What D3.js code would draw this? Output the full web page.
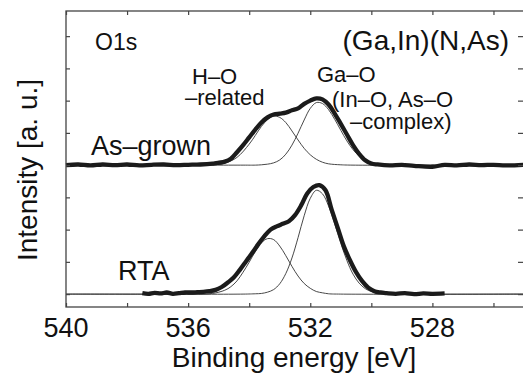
<!DOCTYPE html>
<html>
<head>
<meta charset="utf-8">
<script src="https://cdn.jsdelivr.net/npm/d3@7"></script>
<style>
  body { margin: 0; background: #fff; }
  text { font-family: "Liberation Sans", Arial, sans-serif; fill: #111; }
</style>
</head>
<body>
<div id="chart"></div>
<script>
// O1s XPS spectra, (Ga,In)(N,As): as-grown and after RTA
// each series is [binding energy (eV), intensity above its own baseline (a.u.)]

const spectraNames = ["As–grown", "RTA"];
const baselineOffsets = [4, 0]; // vertical stacking of the two spectra

const asGrownMeasured = [
    [540.0, 0.00], [539.6, 0.02], [539.2, -0.01], [538.8, 0.02], [538.4, 0.00],
    [538.0, 0.02], [537.6, -0.01], [537.2, 0.01], [536.8, 0.02], [536.4, 0.00],
    [536.0, 0.01], [535.6, 0.02], [535.2, 0.05], [534.8, 0.11], [534.6, 0.20],
    [534.4, 0.40], [534.2, 0.62], [534.0, 0.86], [533.8, 1.10], [533.6, 1.32],
    [533.4, 1.48], [533.2, 1.57], [533.0, 1.60], [532.8, 1.63], [532.6, 1.70],
    [532.4, 1.76], [532.2, 1.90], [532.0, 2.00], [531.8, 2.07], [531.6, 2.04],
    [531.4, 1.88], [531.2, 1.60], [531.0, 1.28], [530.8, 0.95], [530.6, 0.62],
    [530.4, 0.35], [530.2, 0.15], [530.0, 0.05], [529.8, 0.02], [529.4, -0.01],
    [529.0, 0.01], [528.6, -0.02], [528.0, -0.05], [527.6, 0.01], [527.2, -0.01],
    [526.8, 0.02], [526.4, 0.00], [526.0, 0.01], [525.6, -0.01], [525.0, 0.01]
];

const asGrownHO = [
    [540.0, 0], [536.0, 0], [535.6, 0.00], [535.2, 0.01], [534.8, 0.06],
    [534.4, 0.24], [534.0, 0.65], [533.8, 0.92], [533.6, 1.20], [533.4, 1.41],
    [533.2, 1.52], [533.0, 1.48], [532.8, 1.32], [532.6, 1.06], [532.4, 0.78],
    [532.2, 0.52], [532.0, 0.32], [531.8, 0.18], [531.6, 0.09], [531.4, 0.04],
    [531.0, 0.01], [530.6, 0], [525.0, 0]
];

const asGrownGaO = [
    [540.0, 0], [534.2, 0], [533.8, 0.00], [533.6, 0.01], [533.4, 0.03],
    [533.2, 0.07], [533.0, 0.16], [532.8, 0.34], [532.6, 0.62], [532.4, 0.99],
    [532.2, 1.40], [532.0, 1.76], [531.8, 1.94], [531.6, 1.91], [531.4, 1.72],
    [531.2, 1.42], [531.0, 1.08], [530.8, 0.75], [530.6, 0.48], [530.4, 0.28],
    [530.2, 0.15], [530.0, 0.07], [529.8, 0.03], [529.6, 0.01], [529.2, 0],
    [525.0, 0]
];

const rtaMeasured = [
    [537.5, 0.03], [537.3, 0.01], [537.1, 0.04], [536.9, 0.02], [536.7, 0.05],
    [536.5, 0.01], [536.3, 0.03], [536.1, 0.05], [535.9, 0.05], [535.7, 0.06],
    [535.5, 0.07], [535.3, 0.09], [535.1, 0.13], [534.9, 0.22], [534.7, 0.36],
    [534.5, 0.52], [534.3, 0.76], [534.1, 1.02], [533.9, 1.28], [533.7, 1.55],
    [533.5, 1.80], [533.3, 2.00], [533.1, 2.10], [532.9, 2.18], [532.7, 2.26],
    [532.5, 2.45], [532.3, 2.75], [532.1, 3.12], [531.9, 3.32], [531.7, 3.38],
    [531.5, 3.22], [531.3, 2.62], [531.1, 2.05], [530.9, 1.48], [530.7, 1.05],
    [530.5, 0.68], [530.3, 0.40], [530.1, 0.20], [529.9, 0.09], [529.7, 0.05],
    [529.5, 0.03], [529.2, 0.01], [528.9, 0.03], [528.6, 0.00], [528.3, 0.02],
    [528.0, 0.01], [527.6, 0.02]
];

const rtaHO = [
    [540.0, 0], [536.0, 0], [535.6, 0.00], [535.2, 0.02], [534.8, 0.12],
    [534.6, 0.23], [534.4, 0.41], [534.2, 0.68], [534.0, 0.99], [533.8, 1.32],
    [533.6, 1.59], [533.4, 1.72], [533.2, 1.69], [533.0, 1.49], [532.8, 1.19],
    [532.6, 0.86], [532.4, 0.56], [532.2, 0.33], [532.0, 0.18], [531.8, 0.08],
    [531.6, 0.04], [531.4, 0.01], [531.0, 0], [525.0, 0]
];

const rtaGaO = [
    [540.0, 0], [534.2, 0], [533.8, 0.01], [533.6, 0.02], [533.4, 0.06],
    [533.2, 0.14], [533.0, 0.32], [532.8, 0.64], [532.6, 1.12], [532.4, 1.75],
    [532.2, 2.43], [532.0, 2.97], [531.8, 3.22], [531.6, 3.11], [531.4, 2.73],
    [531.2, 2.18], [531.0, 1.58], [530.8, 1.04], [530.6, 0.62], [530.4, 0.34],
    [530.2, 0.17], [530.0, 0.08], [529.8, 0.03], [529.6, 0.01], [529.2, 0],
    [525.0, 0]
];

const xTicks = [540, 538, 536, 534, 532, 530, 528, 526];
const xTickLabels = [540, 536, 532, 528];
const yTicks = [0, 1, 2, 3, 4, 5, 6, 7, 8];

// set the dimensions and margins of the graph
const width = 523;
const height = 375;
const margin = { top: 11, right: -1, bottom: 68, left: 66 };

const svg = d3.select("#chart")
    .append("svg")
    .attr("width", width)
    .attr("height", height);

const x = d3.scaleLinear()
    .domain([540, 525])
    .range([margin.left, width - margin.right]);

const y = d3.scaleLinear()
    .domain([-0.4, 8.78])
    .range([height - margin.bottom, margin.top]);

const x0 = x.range()[0], x1 = x.range()[1];
const y0 = y.range()[0], y1 = y.range()[1];

// spectra lines
function spectrumLine(offset) {
    return d3.line()
        .x(d => x(d[0]))
        .y(d => y(d[1] + offset))
        .curve(d3.curveCatmullRom.alpha(0.5));
}

const components = [
    [asGrownHO, baselineOffsets[0]],
    [asGrownGaO, baselineOffsets[0]],
    [rtaHO, baselineOffsets[1]],
    [rtaGaO, baselineOffsets[1]]
];

svg.selectAll("path.component")
    .data(components)
    .join("path")
    .attr("class", "component")
    .attr("d", d => spectrumLine(d[1])(d[0]))
    .attr("fill", "none")
    .attr("stroke", "#333")
    .attr("stroke-width", 0.9);

const measured = [
    [asGrownMeasured, baselineOffsets[0]],
    [rtaMeasured, baselineOffsets[1]]
];

svg.selectAll("path.measured")
    .data(measured)
    .join("path")
    .attr("class", "measured")
    .attr("d", d => spectrumLine(d[1])(d[0]))
    .attr("fill", "none")
    .attr("stroke", "#1b1b1b")
    .attr("stroke-width", 4.3)
    .attr("stroke-linejoin", "round");

// frame
const frameColor = "#444";
svg.append("rect")
    .attr("x", x0)
    .attr("y", y1)
    .attr("width", x1 - x0)
    .attr("height", y0 - y1)
    .attr("fill", "none")
    .attr("stroke", frameColor)
    .attr("stroke-width", 1.3);

// axes with inward ticks
svg.append("g")
    .attr("transform", `translate(0,${y0})`)
    .call(d3.axisTop(x).tickValues(xTicks).tickSize(4).tickFormat(""))
    .call(g => g.select(".domain").remove());

svg.append("g")
    .attr("transform", `translate(0,${y1})`)
    .call(d3.axisBottom(x).tickValues(xTicks).tickSize(4).tickFormat(""))
    .call(g => g.select(".domain").remove());

svg.append("g")
    .attr("transform", `translate(${x0},0)`)
    .call(d3.axisRight(y).tickValues(yTicks).tickSize(4).tickFormat(""))
    .call(g => g.select(".domain").remove());

svg.append("g")
    .attr("transform", `translate(${x1},0)`)
    .call(d3.axisLeft(y).tickValues(yTicks).tickSize(6).tickFormat(""))
    .call(g => g.select(".domain").remove());

svg.selectAll(".tick line")
    .attr("stroke", frameColor)
    .attr("stroke-width", 1.2);

// tick labels
svg.selectAll("text.xlabel")
    .data(xTickLabels)
    .join("text")
    .attr("class", "xlabel")
    .attr("x", d => x(d))
    .attr("y", 337)
    .attr("text-anchor", "middle")
    .style("font-size", "27px")
    .text(d => d);

// axis titles
svg.append("text")
    .attr("x", 294)
    .attr("y", 367)
    .attr("text-anchor", "middle")
    .style("font-size", "28px")
    .text("Binding energy [eV]");

svg.append("text")
    .attr("transform", "translate(37,170) rotate(-90)")
    .attr("text-anchor", "middle")
    .style("font-size", "28px")
    .text("Intensity [a. u.]");

// annotations
const labels = [
    { t: "O1s", x: 95, y: 50, s: 23, a: "start" },
    { t: "(Ga,In)(N,As)", x: 509, y: 50, s: 28, a: "end" },
    { t: spectraNames[0], x: 91, y: 155, s: 27, a: "start" },
    { t: spectraNames[1], x: 118, y: 280, s: 27, a: "start" },
    { t: "H–O", x: 192, y: 84, s: 22, a: "start" },
    { t: "–related", x: 185, y: 105, s: 22, a: "start" },
    { t: "Ga–O", x: 317, y: 82, s: 22, a: "start" },
    { t: "(In–O, As–O", x: 332, y: 107, s: 22, a: "start" },
    { t: "–complex)", x: 350, y: 129, s: 22, a: "start" }
];

svg.selectAll("text.note")
    .data(labels)
    .join("text")
    .attr("class", "note")
    .attr("x", d => d.x)
    .attr("y", d => d.y)
    .attr("text-anchor", d => d.a)
    .style("font-size", d => d.s + "px")
    .text(d => d.t);
</script>
</body>
</html>
